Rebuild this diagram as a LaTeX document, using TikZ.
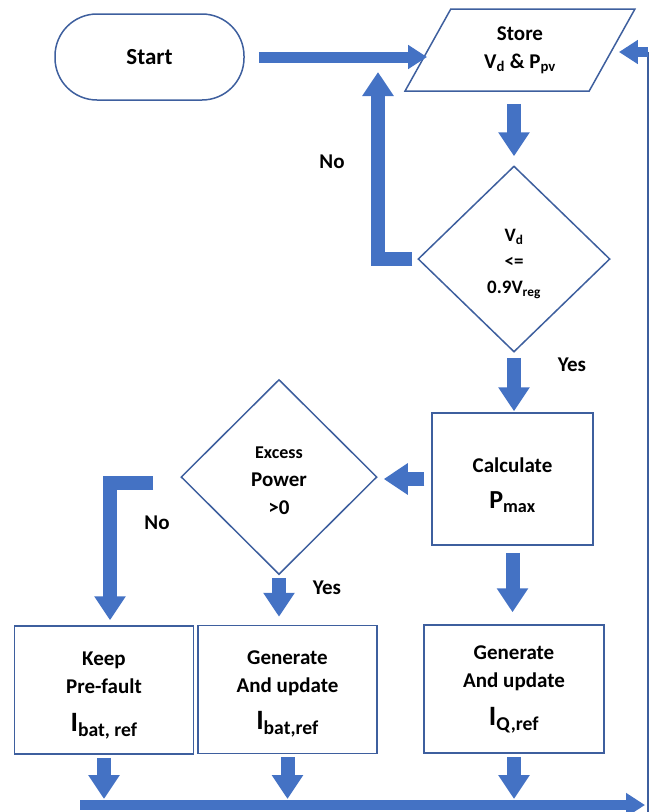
\documentclass[tikz,border=0pt]{standalone}
\usepackage{fontspec}
\setmainfont{Carlito}
\usetikzlibrary{arrows.meta,shapes.geometric,positioning}

\definecolor{boxblue}{HTML}{3E5F9E}
\definecolor{flowblue}{HTML}{4472C4}

\newcommand{\refcurrent}[1]{{\fontsize{28}{30}\selectfont I\textsubscript{#1}}}
\newcommand{\toppad}[1]{\rule{0pt}{#1}}

\tikzset{
  every box/.style={draw=boxblue, line width=1.5pt, align=center, inner sep=2pt,
    font=\bfseries\fontsize{21}{28}\selectfont},
  terminal/.style={every box, rounded corners=42pt, minimum width=189pt, minimum height=86pt},
  io/.style={every box, trapezium, trapezium left angle=64, trapezium right angle=116,
    trapezium stretches=true, minimum width=230pt, minimum height=82pt},
  decision/.style={every box, diamond, inner sep=0pt},
  process/.style={every box, minimum width=179pt, minimum height=128pt},
  flow/.style={draw=flowblue, line width=14pt, -{Triangle[width=30pt, length=24pt]}},
  flow thin/.style={draw=flowblue, line width=11pt, -{Triangle[width=23pt, length=19pt]}},
  answer/.style={font=\bfseries\fontsize{21}{26}\selectfont}
}

\begin{document}
\begin{tikzpicture}[x=1pt, y=-1pt, >=stealth]
\useasboundingbox (0,0) rectangle (650,812);

\node [terminal] (start) at (149.5,57) {\fontsize{23}{28}\selectfont Start};
\node [io] (store) at (520,50) {Store\\V\textsubscript{d} \& P\textsubscript{pv}};

\node [decision, minimum width=192pt, minimum height=186pt,
  font=\bfseries\fontsize{19}{26}\selectfont] (check-1) at (514,259)
  {\toppad{22pt}V\textsubscript{d}\\<=\\0.9V\textsubscript{reg}};

\node [process, minimum width=161pt, minimum height=132pt] (calc) at (512.5,479)
  {\toppad{27pt}Calculate\\[8pt]{\fontsize{26}{28}\selectfont P\textsubscript{max}}};

\node [decision, minimum width=196pt, minimum height=195pt] (check-2) at (279,477)
  {\toppad{20pt}{\fontsize{18}{28}\selectfont Excess}\\Power\\>0};

\node [process] (result-1) at (104,690) {\toppad{24pt}Keep\\Pre-fault\\[10pt]\refcurrent{bat, ref}};
\node [process] (result-2) at (287.5,689.5) {\toppad{22pt}Generate\\And update\\[9pt]\refcurrent{bat,ref}};
\node [process, minimum width=180pt] (result-3) at (514,689) {Generate\\And update\\[10pt]\refcurrent{Q,ref}};

\node [answer] (no-text-1) at (332,162) {No};
\node [answer] (yes-text-1) at (572,365) {Yes};
\node [answer] (no-text-2) at (157,523) {No};
\node [answer] (yes-text-2) at (327,588) {Yes};

\coordinate (no-1) at (378,72);
\coordinate (no-2) at (153,483);
\coordinate (bus-start) at (80,805);
\coordinate (bus-end) at (645,805);
\coordinate (loop-bottom) at (648,812);
\coordinate (loop-top) at (648,52);

\draw [flow thin, shorten <=14pt] (start.east) -- (start.east -| store.west);
\draw [flow, shorten <=12pt, shorten >=9pt] (check-1.north |- store.south) -- (check-1.north);
\draw [flow, shorten <=5pt] (check-1.west) -| (no-1);
\draw [flow, shorten <=5pt, shorten >=1pt] (check-1.south) -- (check-1.south |- calc.north);
\draw [flow, shorten <=7pt, shorten >=6pt] (calc.west) -- (calc.west -| check-2.east);
\draw [flow, shorten <=7pt, shorten >=12pt] (calc.south) -- (calc.south |- result-3.north);
\draw [flow, shorten <=3pt, shorten >=8pt] (check-2.south) -- (check-2.south |- result-2.north);
\draw [flow, shorten >=5pt] (no-2) -| ([xshift=6pt]result-1.north);

\foreach \i in {1,2,3}
  \draw [flow, shorten <=3pt, shorten >=6pt] (result-\i.south) -- (result-\i.south |- bus-start);

\draw [flow thin, line width=10pt] (bus-start) -- (bus-end);
\draw [boxblue, line width=2pt] (loop-bottom) -- (loop-top);
\draw [flow thin, line width=10pt] (loop-top) -- ([xshift=6pt]store.east |- loop-top);

\end{tikzpicture}
\end{document}
